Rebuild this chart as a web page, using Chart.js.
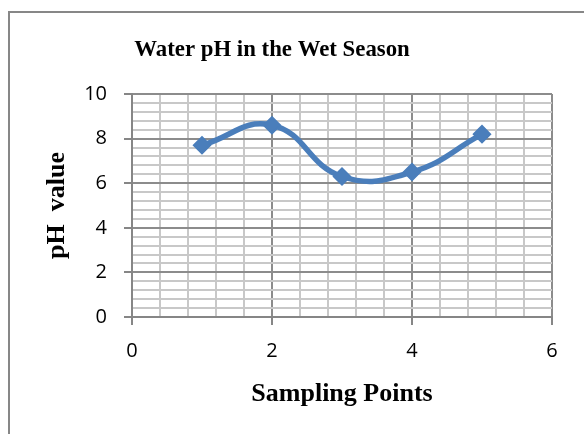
<!DOCTYPE html>
<html>
<head>
<meta charset="utf-8">
<script src="https://cdn.jsdelivr.net/npm/chart.js@4.4.0/dist/chart.umd.min.js"></script>
<style>
  body { margin: 0; background: #fff; }
  #wrap { position: relative; width: 584px; height: 434px; overflow: hidden; }
  #frame { position: absolute; left: 8px; top: 11px; width: 620px; height: 480px; border: 2px solid #878787; }
  canvas { position: absolute; left: 0; top: 0; }
</style>
</head>
<body>
<div id="wrap">
  <div id="frame"></div>
  <canvas id="myChart" width="584" height="434"></canvas>
</div>
<script>
'use strict';
const chartTitle = 'Water pH in the Wet Season';
const xTitle = 'Sampling Points';
const yTitle = 'pH  value';
const samplingPoints = [1, 2, 3, 4, 5];
const phValues = [7.7, 8.6, 6.3, 6.5, 8.2];

const blue = '#4a7ebb';
const isMajor = v => Math.abs(v / 2 - Math.round(v / 2)) < 1e-6;

const points = samplingPoints.map((x, i) => ({ x: x, y: phValues[i] }));

// chart title drawn at a fixed spot (centred a bit left of the canvas, as in the original)
const titlePlugin = {
  id: 'fixedTitle',
  afterDraw(chart) {
    const ctx = chart.ctx;
    ctx.save();
    ctx.font = 'bold 22.8px "Liberation Serif", "Times New Roman", serif';
    ctx.fillStyle = '#000';
    ctx.textAlign = 'center';
    ctx.textBaseline = 'alphabetic';
    ctx.fillText(chartTitle, 272, 56);
    ctx.restore();
  }
};

function axis(min, max, title, pad) {
  return {
    type: 'linear',
    min: min,
    max: max,
    ticks: {
      stepSize: 0.4,
      autoSkip: false,
      maxRotation: 0,
      padding: pad,
      color: '#000',
      font: { family: '"Open Sans", sans-serif', size: 20 },
      callback: v => isMajor(v) ? String(Math.round(v)) : ''
    },
    grid: {
      lineWidth: 2,
      color: c => isMajor(c.tick.value) ? '#8c8c8c' : '#c8c8c8',
      tickColor: c => isMajor(c.tick.value) ? '#868686' : 'rgba(0,0,0,0)',
      tickLength: 8,
      tickWidth: 2
    },
    border: { color: '#868686', width: 2 },
    title: {
      display: true,
      text: title,
      color: '#000',
      font: { family: '"Liberation Serif", "Times New Roman", serif', size: 26, weight: 'bold' }
    }
  };
}

const xAxis = axis(0, 6, xTitle, 14);
xAxis.title.padding = { top: 0, bottom: 24 };
xAxis.afterFit = s => { s.height = 117; };

const yAxis = axis(0, 10, yTitle, 17);
yAxis.title.padding = { top: 42, bottom: 0 };
yAxis.afterFit = s => { s.width = 132; };

const ctx = document.getElementById('myChart').getContext('2d');
const myChart = new Chart(ctx, {
  type: 'line',
  data: {
    datasets: [
      {
        label: 'pH',
        data: points,
        borderColor: blue,
        backgroundColor: blue,
        borderWidth: 5.5,
        tension: 0.45,
        pointStyle: 'rectRot',
        pointRadius: 8.5,
        pointBorderWidth: 1.5,
        pointBackgroundColor: blue,
        pointBorderColor: blue,
        fill: false,
        clip: false
      }
    ]
  },
  options: {
    responsive: false,
    animation: false,
    layout: { padding: { top: 94, right: 32, bottom: 0, left: 0 } },
    plugins: {
      legend: { display: false },
      tooltip: { enabled: false }
    },
    scales: { x: xAxis, y: yAxis }
  },
  plugins: [titlePlugin]
});
</script>
</body>
</html>
